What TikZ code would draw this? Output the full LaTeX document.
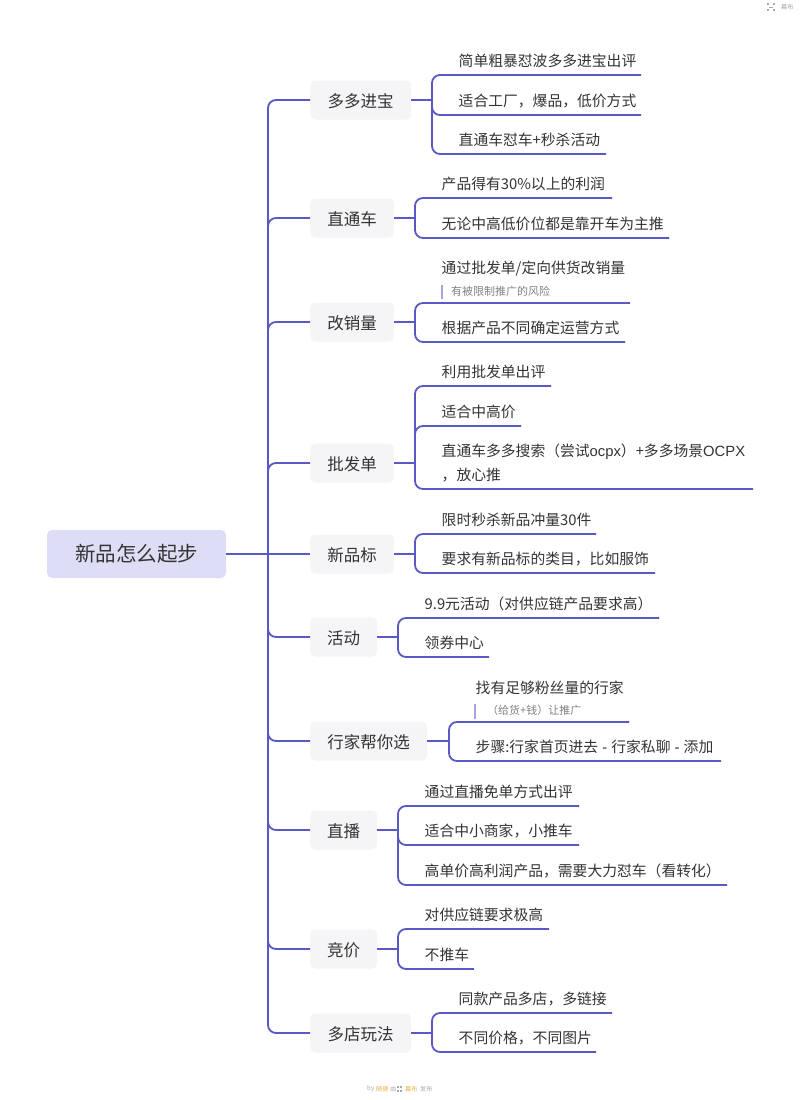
\documentclass[tikz,border=0pt]{standalone}
\usepackage{fontspec}
\setmainfont{Noto Sans CJK SC}
\newfontfamily\latinf{Liberation Sans}
\definecolor{wirec}{HTML}{5A58C2}
\definecolor{barc}{HTML}{A5A3E0}
\definecolor{rootf}{HTML}{DDDEF6}
\definecolor{boxf}{HTML}{F5F5F7}
\definecolor{inkc}{HTML}{333333}
\definecolor{subc}{HTML}{808080}
\definecolor{footc}{HTML}{A8A8A8}
\definecolor{footo}{HTML}{E5B445}
\tikzset{
 wire/.style={draw=wirec,line width=1.8pt,rounded corners=8pt},
 rootbox/.style={fill=rootf,rounded corners=5pt,minimum width=179pt,minimum height=48pt,inner sep=0,text=inkc,font=\fontsize{20.5}{24}\selectfont},
 branchbox/.style={fill=boxf,rounded corners=5pt,minimum height=39pt,inner sep=0,anchor=west,text=inkc,text height=17.5pt,text depth=2pt,font=\fontsize{16.5}{20}\selectfont},
 leaftext/.style={anchor=west,inner sep=0,xshift=-0.5pt,text=inkc,text height=13pt,text depth=1.6pt,font=\fontsize{14.8}{18}\selectfont},
 subtext/.style={anchor=west,inner sep=0,text=subc,text height=9pt,text depth=2pt,font=\fontsize{11}{14}\selectfont},
 subbar/.style={draw=barc,line width=2pt},
 foot/.style={inner sep=0,anchor=west,text=footc,font=\fontsize{6.2}{8}\selectfont},
}
% name, x, y, spine coordinate, line y, line end x, text
\newcommand{\LeafNode}[7]{%
  \node[leaftext] (#1) at (#2,#3) {#7};
  \coordinate (#1e) at (#6,#5);
  \draw[wire] (#4) |- (#1e);
}
% name, y, width, spine x, text
\newcommand{\BranchNode}[5]{%
  \node[branchbox,minimum width=#3 pt] (#1) at (310,#2) {#5};
  \draw[wire] (hub) |- (#1.west);
  \coordinate (#1s) at (#4,#2);
  \draw[wire] (#1.east) -- (#1s);
}
\begin{document}
\begin{tikzpicture}[x=1pt,y=-1pt]
\useasboundingbox (0,0) rectangle (800,1100);
\node[rootbox] (root) at (136.5,554) {新品怎么起步};
\coordinate (hub) at (268,554);

\BranchNode{a}{100}{101}{432}{多多进宝}
\BranchNode{b}{218}{84}{415}{直通车}
\BranchNode{c}{322}{84}{415}{改销量}
\BranchNode{d}{463}{84}{415}{批发单}
\node[branchbox,minimum width=84pt] (e) at (310,554) {新品标};
\coordinate (es) at (415,554);
\draw[wire] (e.east) -- (es);
\BranchNode{f}{637}{67}{398}{活动}
\BranchNode{g}{741}{117}{449}{行家帮你选}
\BranchNode{h}{830}{67}{398}{直播}
\BranchNode{i}{949}{67}{398}{竞价}
\BranchNode{j}{1033}{101}{432}{多店玩法}
\draw[wire] (root.east) -- (e.west);

\LeafNode{aa}{459}{61}{as}{75}{641}{简单粗暴怼波多多进宝出评}
\LeafNode{ab}{459}{100.5}{as}{115}{641}{适合工厂，爆品，低价方式}
\LeafNode{ac}{459}{139.5}{as}{154}{606}{直通车怼车+秒杀活动}

\LeafNode{ba}{442}{184}{bs}{198}{612}{产品得有30\%以上的利润}
\LeafNode{bb}{442}{224}{bs}{238}{669}{无论中高低价位都是靠开车为主推}

\LeafNode{ca}{442}{268}{cs}{303}{630}{通过批发单/定向供货改销量}
\node[subtext] (cax) at (451,291.5) {有被限制推广的风险};
\coordinate (cbt) at (441.5,284.5);
\coordinate (cbb) at (441.5,298.5);
\draw[subbar] (cbt) -- (cbb);
\LeafNode{cb}{442}{328}{cs}{342}{625}{根据产品不同确定运营方式}

\LeafNode{da}{442}{372}{ds}{386}{551}{利用批发单出评}
\LeafNode{db}{442}{411.5}{ds}{426}{521}{适合中高价}
\LeafNode{dc}{442}{451}{ds}{489}{753}{直通车多多搜索（尝试{\latinf ocpx}）+多多场景{\latinf OCPX}}
\node[leaftext] (dcb) at (442,475) {，放心推};

\LeafNode{ea}{442}{520}{es}{534}{596}{限时秒杀新品冲量30件}
\LeafNode{eb}{442}{559}{es}{573}{655}{要求有新品标的类目，比如服饰}

\LeafNode{fa}{425}{603.5}{fs}{618}{659}{9.9元活动（对供应链产品要求高）}
\LeafNode{fb}{425}{643}{fs}{657}{489}{领券中心}

\LeafNode{ga}{476}{687.5}{gs}{722}{629}{找有足够粉丝量的行家}
\node[subtext] (gax) at (487,711) {（给货+钱）让推广};
\coordinate (gbt) at (475,703.5);
\coordinate (gbb) at (475,718.5);
\draw[subbar] (gbt) -- (gbb);
\LeafNode{gb}{476}{747}{gs}{761}{721}{步骤:行家首页进去{\latinf\ - }行家私聊{\latinf\ - }添加}

\LeafNode{ha}{425}{791.5}{hs}{806}{579}{通过直播免单方式出评}
\LeafNode{hb}{425}{831}{hs}{845}{579}{适合中小商家，小推车}
\LeafNode{hc}{425}{870.5}{hs}{885}{727}{高单价高利润产品，需要大力怼车（看转化）}

\LeafNode{ia}{425}{915}{is}{929}{549}{对供应链要求极高}
\LeafNode{ib}{425}{954.5}{is}{969}{474}{不推车}

\LeafNode{ja}{459}{998.5}{js}{1013}{612}{同款产品多店，多链接}
\LeafNode{jb}{459}{1038}{js}{1052}{596}{不同价格，不同图片}

% top-right mark
\foreach \px/\py in {768/4,774/4,768/10,774/10}{
  \fill[footc] (\px-1,\py-1) rectangle (\px+1,\py+1);
}
\draw[footc,line width=0.4pt] (769,7) -- (773,7);
\node[foot] (topmark) at (781,7) {幕布};

% footer
\node[foot] (fby) at (367,1089) {by};
\node[foot,text=footo] (fname) at (376,1089) {随便};
\node[foot] (fyou) at (390,1089) {由};
\foreach \px/\py in {398/1087,401/1087,398/1091,401/1091}{
  \fill[footc] (\px-.6,\py-.6) rectangle (\px+.6,\py+.6);
}
\node[foot,text=footo] (fmu) at (405,1089) {幕布};
\node[foot] (ffa) at (420,1089) {发布};
\end{tikzpicture}
\end{document}
